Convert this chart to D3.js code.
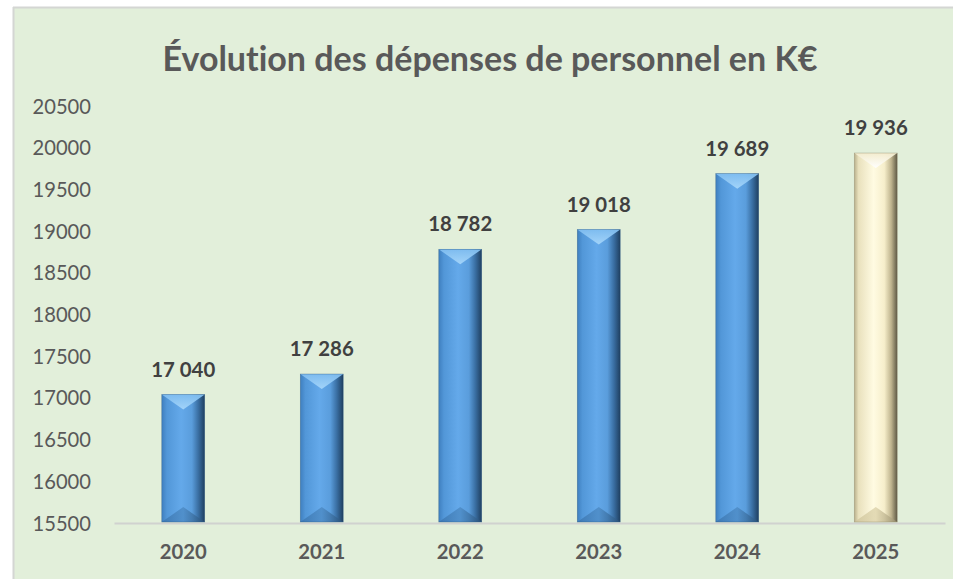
<!DOCTYPE html>
<html>
<head>
<meta charset="utf-8">
<script src="https://cdn.jsdelivr.net/npm/d3@7"></script>
<style>
  html, body { margin: 0; padding: 0; background: #ffffff; }
  svg { display: block; }
  text { font-family: Lato, "Open Sans", "DejaVu Sans", sans-serif; font-variant-ligatures: none; }
</style>
</head>
<body>
<svg id="chart" width="953" height="579"></svg>
<script>
// ---- data ----
const title = "Évolution des dépenses de personnel en K€";
const categories = ["2020", "2021", "2022", "2023", "2024", "2025"];
const values = [17040, 17286, 18782, 19018, 19689, 19936];
const barKinds = ["actual", "actual", "actual", "actual", "actual", "forecast"];
const yTicks = [15500, 16000, 16500, 17000, 17500, 18000, 18500, 19000, 19500, 20000, 20500];
const yDomain = [15500, 20500];

// ---- setup ----
const svg = d3.select("#chart");
const W = 953, H = 579;
const plot = { left: 114, right: 945, top: 106, bottom: 523 };

const frFmt = d3.formatLocale({ decimal: ",", thousands: "\u00a0", grouping: [3], currency: ["", " €"] }).format(",d");

// fit text size to a target width
function fitSize(str, weight, targetWidth) {
  const t = svg.append("text").attr("font-size", 100).attr("font-weight", weight).text(str);
  const w = t.node().getComputedTextLength();
  t.remove();
  return 100 * targetWidth / w;
}

// background panel
svg.append("rect").attr("x", 13).attr("y", 7).attr("width", W - 13).attr("height", H - 7)
  .attr("fill", "#E2EFDA");
svg.append("line").attr("x1", 13.5).attr("x2", 13.5).attr("y1", 7).attr("y2", H)
  .attr("stroke", "#D4D6D3").attr("stroke-width", 2);
svg.append("line").attr("x1", 13).attr("x2", W).attr("y1", 7.5).attr("y2", 7.5)
  .attr("stroke", "#D4D6D3").attr("stroke-width", 2);

// scales
const x = d3.scaleBand().domain(categories).range([plot.left, plot.right]).paddingInner(0.69).paddingOuter(0.345);
const y = d3.scaleLinear().domain(yDomain).range([plot.bottom, plot.top]);

// gradients
const defs = svg.append("defs");
function hGrad(id, stops) {
  const g = defs.append("linearGradient").attr("id", id).attr("x1", 0).attr("x2", 1).attr("y1", 0).attr("y2", 0);
  stops.forEach(s => g.append("stop").attr("offset", s[0]).attr("stop-color", s[1]));
}
function vGrad(id, stops) {
  const g = defs.append("linearGradient").attr("id", id).attr("x1", 0).attr("x2", 0).attr("y1", 0).attr("y2", 1);
  stops.forEach(s => g.append("stop").attr("offset", s[0]).attr("stop-color", s[1]));
}
hGrad("blueBody", [[0, "#3f7fbf"], [0.12, "#5297d8"], [0.45, "#64a9ea"], [0.7, "#5a9ddc"], [0.85, "#3a6fa3"], [1, "#1f3f60"]]);
vGrad("blueTop", [[0, "#7fbdf0"], [1, "#a6d6fa"]]);
hGrad("blueBottom", [[0, "#3a74ad"], [0.5, "#4c8ac4"], [1, "#2a5279"]]);
hGrad("creamBody", [[0, "#b9b08c"], [0.1, "#e9e1bd"], [0.45, "#fffbe2"], [0.7, "#f6eecb"], [0.86, "#bfb48e"], [1, "#5f5a45"]]);
vGrad("creamTop", [[0, "#f3ecce"], [1, "#ffffff"]]);
hGrad("creamBottom", [[0, "#cfc59d"], [0.5, "#ddd3ab"], [1, "#9b9272"]]);

// y axis labels
const ySize = fitSize("20000", 400, 58.5);
const yAxis = d3.axisLeft(y).tickValues(yTicks).tickFormat(d3.format("d")).tickSize(0).tickPadding(0);
const yg = svg.append("g").attr("transform", `translate(91,0)`).call(yAxis);
yg.select(".domain").remove();
yg.selectAll("text").attr("font-size", ySize).attr("fill", "#595959")
  .attr("font-family", "Lato, 'Open Sans', sans-serif").attr("dy", "0.35em");

// x axis
const xSize = fitSize("2020", 700, 47);
const xAxis = d3.axisBottom(x).tickSize(0).tickPadding(0);
const xg = svg.append("g").attr("transform", `translate(0,${plot.bottom})`).call(xAxis);
xg.select(".domain").attr("stroke", "#D0D2CF").attr("stroke-width", 2);
xg.selectAll("text").attr("font-size", xSize).attr("font-weight", 700).attr("fill", "#595959")
  .attr("font-family", "Lato, 'Open Sans', sans-serif").attr("y", 29).attr("dy", "0.35em");

// bars with bevel
const bars = svg.append("g").selectAll("g").data(values).join("g");
bars.each(function(v, i) {
  const g = d3.select(this);
  const kind = barKinds[i];
  const x0 = x(categories[i]), bw = x.bandwidth(), x1 = x0 + bw, xc = x0 + bw / 2;
  const yt = y(v), yb = y(yDomain[0]) - 1;
  const bev = 15;
  const pre = kind === "forecast" ? "cream" : "blue";
  g.append("rect").attr("x", x0).attr("y", yt).attr("width", bw).attr("height", yb - yt)
    .attr("fill", `url(#${pre}Body)`);
  g.append("path").attr("d", `M${x0},${yt}L${x1},${yt}L${xc},${yt + bev}Z`)
    .attr("fill", `url(#${pre}Top)`).attr("opacity", 0.95);
  g.append("path").attr("d", `M${x0},${yb}L${x1},${yb}L${xc},${yb - bev}Z`)
    .attr("fill", `url(#${pre}Bottom)`).attr("opacity", 0.8);
  g.append("rect").attr("x", x0).attr("y", yt).attr("width", bw).attr("height", yb - yt)
    .attr("fill", "none").attr("stroke", kind === "forecast" ? "#8d8668" : "#2d5a86").attr("stroke-width", 0.6).attr("stroke-opacity", 0.6);
});

// data labels
const lSize = fitSize("19\u00a0689", 700, 64);
svg.append("g").selectAll("text").data(values).join("text")
  .attr("x", (d, i) => x(categories[i]) + x.bandwidth() / 2)
  .attr("y", d => y(d) - 18)
  .attr("text-anchor", "middle")
  .attr("font-size", lSize).attr("font-weight", 700).attr("fill", "#404040")
  .text(d => frFmt(d));

// title
const tSize = fitSize(title, 700, 655);
svg.append("text").attr("x", 490).attr("y", 71).attr("text-anchor", "middle")
  .attr("font-size", tSize).attr("font-weight", 700).attr("fill", "#595959").text(title);
</script>
</body>
</html>
